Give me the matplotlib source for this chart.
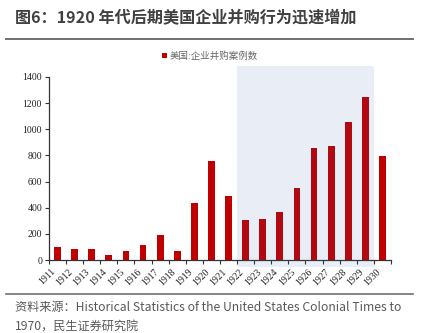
import matplotlib.pyplot as plt
from matplotlib.patches import Rectangle
from matplotlib.lines import Line2D
from matplotlib.transforms import blended_transform_factory

plt.rcParams['font.family'] = ['Noto Sans CJK SC', 'DejaVu Sans']

years = [str(y) for y in range(1911, 1931)]
deals = [103, 82, 85, 39, 71, 117, 195, 71, 438, 760,
         487, 309, 311, 368, 554, 856, 870, 1058, 1245, 799]
series_name = '美国:企业并购案例数'
title = '图6：1920 年代后期美国企业并购行为迅速增加'
source_lines = ['资料来源：Historical Statistics of the United States Colonial Times to',
                '1970，民生证券研究院']
# boom years highlighted (1922-1929)
shade_from, shade_to = '1922', '1929'

red = '#C00000'
fig = plt.figure(figsize=(4.23, 3.33), dpi=100)
ax = fig.add_axes([0.1158, 0.2192, 0.8085, 0.5496])

x = list(range(len(years)))
ax.bar(x, deals, width=0.4, color=red, zorder=2)

ax.set_xlim(-0.5, len(years) - 0.5)
ax.set_ylim(0, 1400)
ax.set_yticks(range(0, 1401, 200))
ax.set_xticks(x)
ax.set_xticklabels(years, rotation=45, ha='right')
ax.set_xticks([i - 0.5 for i in range(len(years) + 1)], minor=True)
ax.tick_params(axis='both', labelsize=7, labelfontfamily='Liberation Serif',
               labelcolor='#222222')
ax.tick_params(axis='x', which='major', length=0, pad=5)
ax.tick_params(axis='x', which='minor', length=3, width=0.8, color='#333333')
ax.tick_params(axis='y', length=3, width=0.8, color='#333333', pad=2)
for s in ['top', 'right']:
    ax.spines[s].set_visible(False)
for s in ['left', 'bottom']:
    ax.spines[s].set_color('#333333')
    ax.spines[s].set_linewidth(0.9)

# shaded band over the late-1920s bars
i0, i1 = years.index(shade_from), years.index(shade_to)
trans = blended_transform_factory(ax.transData, fig.transFigure)
band = Rectangle((i0 - 0.5, 0.199), i1 - i0 + 1, 0.603, transform=trans,
                 facecolor=(45 / 255, 85 / 255, 175 / 255), alpha=0.1,
                 edgecolor='none', clip_on=False, zorder=3)
ax.add_patch(band)

# legend
fig.patches.append(Rectangle((0.383, 0.826), 0.0118, 0.015,
                             transform=fig.transFigure, facecolor=red,
                             edgecolor='none'))
fig.text(0.402, 0.832, series_name, fontsize=6.8, color='#666666',
         va='center', ha='left')

# title and rules
fig.text(0.035, 0.946, title, fontsize=11.6, fontweight='bold',
         color='#404040', va='center', ha='left')
fig.add_artist(Line2D([0.014, 0.976], [0.883, 0.883], color='#707070',
                      linewidth=1.4, transform=fig.transFigure))
fig.add_artist(Line2D([0.014, 0.976], [0.118, 0.118], color='#707070',
                      linewidth=1.2, transform=fig.transFigure))
fig.text(0.035, 0.078, source_lines[0], fontsize=8.75, color='#595959',
         va='center', ha='left')
fig.text(0.035, 0.018, source_lines[1], fontsize=8.75, color='#595959',
         va='center', ha='left')

fig.savefig('out.png', dpi=100)
